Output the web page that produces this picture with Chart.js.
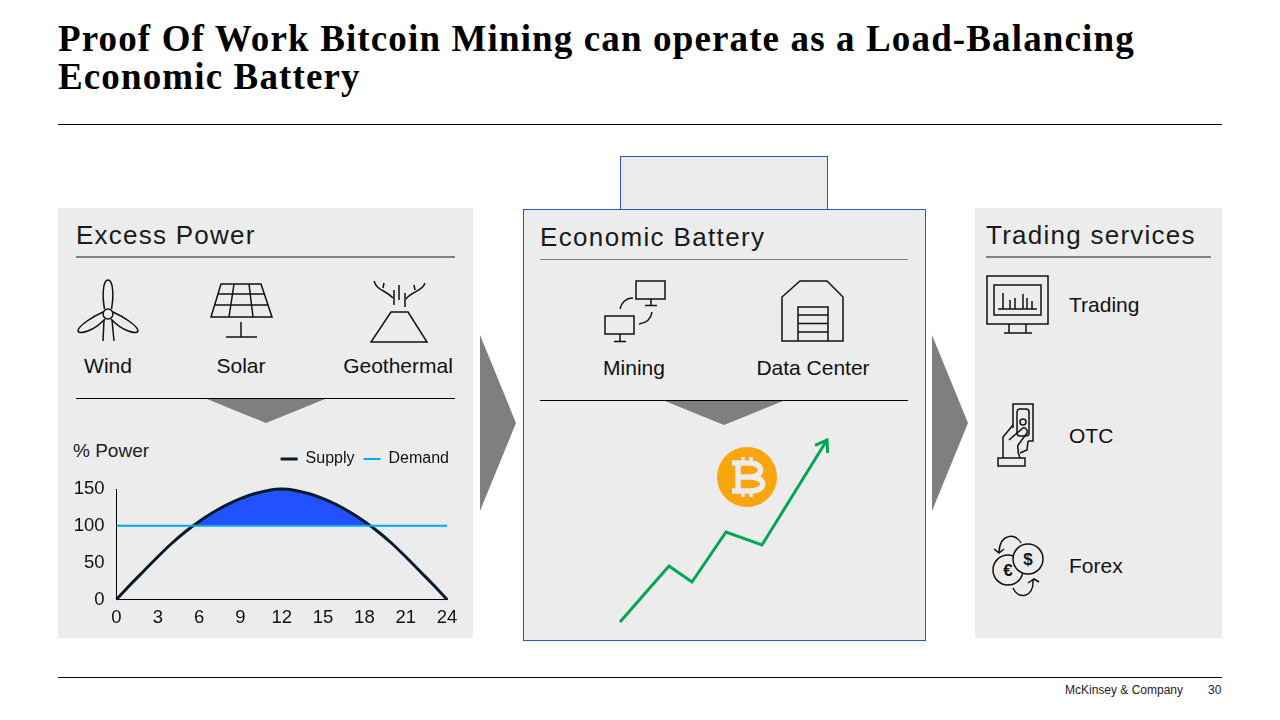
<!DOCTYPE html>
<html>
<head>
<meta charset="utf-8">
<title>Economic Battery</title>
<script src="https://cdn.jsdelivr.net/npm/chart.js@4"></script>
<style>
  body { margin: 0; background: #fff; width: 1280px; height: 720px; overflow: hidden; position: relative;
         font-family: "Liberation Sans", Arial, sans-serif; color: #111; }
  div, canvas, svg { position: absolute; }
  .title { left: 58px; top: 20px; width: 1164px; font: bold 37px/38px "Liberation Serif", serif; letter-spacing: 1.13px; color: #000; }
  .panel { background: #ececec; }
  .head { font-size: 26px; line-height: 30px; letter-spacing: 1.25px; white-space: nowrap; color: #1a1a1a; }
  .lbl { font-size: 21px; line-height: 24px; white-space: nowrap; transform: translateX(-50%); color: #111; }
  .lbl2 { font-size: 21px; line-height: 24px; white-space: nowrap; color: #111; }
  .rule { height: 1px; background: #000; }
  .rule2 { height: 2px; background: #808080; }
  #icons { left: 0; top: 0; }
  #icons .ic { fill: none; stroke: #111; stroke-width: 1.5; }
</style>
</head>
<body>
<div class="title">Proof Of Work Bitcoin Mining can operate as a Load-Balancing<br>Economic Battery</div>
<div class="rule" style="left:58px;top:124px;width:1164px"></div>

<div class="panel" style="left:58px;top:208px;width:415px;height:430px"></div>
<div class="panel" style="left:620px;top:156px;width:206px;height:54px;border:1px solid #2f54c0"></div>
<div class="panel" style="left:523px;top:209px;width:401px;height:430px;border:1px solid #2f54c0"></div>
<div class="panel" style="left:975px;top:208px;width:247px;height:430px"></div>

<div class="head" style="left:76px;top:220px">Excess Power</div>
<div class="rule2" style="left:76px;top:256px;width:379px"></div>
<div class="head" style="left:540px;top:222px;letter-spacing:1.35px">Economic Battery</div>
<div class="rule" style="left:540px;top:259px;width:368px;background:#808080"></div>
<div class="head" style="left:986px;top:220px">Trading services</div>
<div class="rule2" style="left:986px;top:256px;width:225px"></div>

<div class="lbl" style="left:108px;top:354px">Wind</div>
<div class="lbl" style="left:241px;top:354px">Solar</div>
<div class="lbl" style="left:398px;top:354px">Geothermal</div>
<div class="rule" style="left:76px;top:398px;width:379px"></div>
<div class="lbl" style="left:634px;top:356px">Mining</div>
<div class="lbl" style="left:813px;top:356px">Data Center</div>
<div class="rule" style="left:540px;top:400px;width:368px"></div>
<div class="lbl2" style="left:1069px;top:293px">Trading</div>
<div class="lbl2" style="left:1069px;top:424px">OTC</div>
<div class="lbl2" style="left:1069px;top:554px">Forex</div>

<svg id="icons" width="1280" height="720">
  <!-- arrows -->
  <g fill="#7f7f7f">
    <polygon points="480,335 516,423 480,511"/>
    <polygon points="932,335 968,423 932,511"/>
    <polygon points="207,399 325,399 266,423"/>
    <polygon points="665,401 783,401 724,425"/>
  </g>
  <!-- wind -->
  <g class="ic">
    <circle cx="108" cy="314" r="5"/>
    <path d="M104.5,309 C102,295 103,280 108,280 C113,280 114,295 111.500,309"/>
    <path d="M103,312 C92,317 78,326 78,331 C79,335 94,331 105,319"/>
    <path d="M113,312 C124,317 138,326 138,331 C137,335 122,331 111,319"/>
    <path d="M104,320 L103,341 M112,320 L114,341"/>
  </g>
  <!-- solar -->
  <g class="ic">
    <path d="M221,284 L261,284 L272,317 L211,317 Z"/>
    <path d="M217.7,294 L264.3,294 M214,305 L268,305 M234,284 L229,317 M249,284 L253,317"/>
    <path d="M241,322 L241,337 M226,337 L257,337"/>
  </g>
  <!-- geothermal -->
  <g class="ic">
    <path d="M391,312 L408,312 L427,342 L371,342 Z"/>
    <path d="M394,290 L394,305 M399,285 L399,300 M405,293 L405,307"/>
    <path d="M374,281 C377,291 386,290 393,298 M383,288 L384,283"/>
    <path d="M425,283 C422,292 412,291 406,299 M415,290 L414,285"/>
  </g>
  <!-- mining -->
  <g class="ic">
    <rect x="636" y="281" width="29" height="18"/>
    <path d="M651,299 L651,305.5 M645,305.5 L657,305.5"/>
    <rect x="605" y="316" width="29" height="18"/>
    <path d="M620,334 L620,341.5 M614,341.5 L626,341.5"/>
    <path d="M620,309 C621,303 626,298 633,298"/>
    <path d="M639,324 C646,323 651,319 652,312"/>
  </g>
  <!-- data center -->
  <g class="ic">
    <path d="M782,341 L782,297 L800,281 L827,281 L843,297 L843,341 Z"/>
    <path d="M798,341 L798,307 L828,307 L828,341 M798,315 L828,315 M798,323.5 L828,323.5 M798,332 L828,332"/>
  </g>
  <!-- trading -->
  <g class="ic">
    <rect x="987" y="276" width="61" height="48"/>
    <rect x="994" y="285" width="47" height="30"/>
    <path d="M998,309 L1037,309 M1003,293 L1003,309 M1010,300 L1010,309 M1015,298 L1015,309 M1023,294 L1023,309 M1027,298 L1027,309 M1032,301 L1032,309"/>
    <path d="M1009,324 L1009,333 M1026,324 L1026,333 M1004,333 L1032,333"/>
  </g>
  <!-- otc -->
  <g class="ic">
    <path d="M1013,428 L1013,404 L1033,404 L1033,441 L1028,441"/>
    <rect x="1017" y="409" width="12" height="27" rx="3"/>
    <circle cx="1023" cy="422" r="3"/>
    <rect x="998" y="458" width="27" height="8"/>
    <path d="M1003,458 L1003,437 L1013,425 M1009,440 L1023,428 C1026,427 1028,431 1027,433 L1018,445 C1017,448 1019,450 1018,452 L1020,458 M1028,441 L1027,450 L1020,453"/>
  </g>
  <!-- forex -->
  <g class="ic">
    <circle cx="1008" cy="570" r="15"/>
    <circle cx="1028" cy="559" r="15" fill="#ececec"/>
    <path d="M1021,543 C1016,533 1000,533 999,552 M994,549 L999,553 L1004,549"/>
    <path d="M1013,588 C1018,600 1034,598 1033,580 M1028,583 L1034,579 L1039,582"/>
    <text x="1008" y="576" text-anchor="middle" font-size="17" font-weight="bold" fill="#111" stroke="none">€</text>
    <text x="1028" y="565" text-anchor="middle" font-size="17" font-weight="bold" fill="#111" stroke="none">$</text>
  </g>
  <!-- bitcoin -->
  <circle cx="747" cy="477" r="30" fill="#f9a50e"/>
  <g fill="none" stroke="#ececec" stroke-width="5.5">
    <path d="M732,463 L750,463 C764,463 764,477 750,477 L738,477 M750,477 C767,477 767,491 750,491 L732,491 M738,461 L738,493"/>
    <path d="M743,457 L743,463 M751,457 L751,463 M743,491 L743,497 M751,491 L751,497" stroke-width="3.5"/>
  </g>
</svg>

<div style="left:73px;top:440px;font-size:19px;line-height:22px;color:#222">% Power</div>
<canvas id="powerChart" width="415" height="198" style="left:58px;top:440px"></canvas>
<canvas id="growthChart" width="237" height="212" style="left:605px;top:425px"></canvas>

<div class="rule" style="left:58px;top:677px;width:1164px"></div>
<div style="left:1065px;top:683px;font-size:12px;line-height:14px;color:#222">McKinsey &amp; Company</div>
<div style="left:1208px;top:683px;font-size:12px;line-height:14px;color:#222">30</div>

<script>
const hours = [0,1,2,3,4,5,6,7,8,9,10,11,12,13,14,15,16,17,18,19,20,21,22,23,24];
const supply = [0,20,39,58,76,92,106,118,128.5,137,143.5,148,150,148,143.5,137,128.5,118,106,92,76,58,39,20,0];
const demand = [100,100,100,100,100,100,100,100,100,100,100,100,100,100,100,100,100,100,100,100,100,100,100,100,100];
const xTicks = [0,3,6,9,12,15,18,21,24];
const yTicks = [0,50,100,150];

const growthX = [0,49,72,106,142,207];
const growthY = [0,56,40,90,77,182];

const font = 'Liberation Sans';

// leave room under the legend so the plot starts where it should,
// and push the legend past the plot's right edge
const legendGap = {
    id: 'legendGap',
    beforeInit(chart) {
        const fit = chart.legend.fit;
        chart.legend.fit = function () {
            fit.call(this);
            this.height += 12;
        };
    },
    afterLayout(chart) {
        chart.legend.left += 11;
        chart.legend.right += 11;
    }
};

new Chart(document.getElementById('powerChart'), {
    type: 'line',
    plugins: [legendGap],
    data: {
        datasets: [{
            label: 'Supply',
            data: hours.map((h, i) => ({ x: h, y: supply[i] })),
            borderColor: '#051c2c',
            backgroundColor: '#051c2c',
            borderWidth: 3,
            pointRadius: 0,
            cubicInterpolationMode: 'monotone',
            clip: false,
            order: 1,
            fill: { target: { value: 100 }, above: '#2251ff', below: 'rgba(0,0,0,0)' }
        }, {
            label: 'Demand',
            data: hours.map((h, i) => ({ x: h, y: demand[i] })),
            borderColor: '#00a9f4',
            backgroundColor: '#00a9f4',
            borderWidth: 2,
            pointRadius: 0,
            clip: false,
            order: 0
        }]
    },
    options: {
        responsive: false,
        animation: false,
        layout: { padding: { top: 2, right: 26, bottom: 0, left: 0 } },
        plugins: {
            tooltip: { enabled: false },
            legend: {
                position: 'top',
                align: 'end',
                labels: {
                    usePointStyle: true,
                    pointStyle: 'line',
                    pointStyleWidth: 17,
                    boxHeight: 3,
                    color: '#111',
                    padding: 9,
                    font: { family: font, size: 16 },
                    sort: (a, b) => a.datasetIndex - b.datasetIndex
                }
            }
        },
        scales: {
            x: {
                type: 'linear',
                min: 0,
                max: 24,
                afterBuildTicks: scale => { scale.ticks = xTicks.map(v => ({ value: v })); },
                afterFit: scale => { scale.height = 38.5; },
                grid: { display: false, drawTicks: false },
                border: { color: '#000', width: 1 },
                ticks: { color: '#111', padding: 7, maxRotation: 0, autoSkip: false, font: { family: font, size: 18.5 } }
            },
            y: {
                min: 0,
                max: 150,
                afterBuildTicks: scale => { scale.ticks = yTicks.map(v => ({ value: v })); },
                afterFit: scale => { scale.width = 58.5; },
                grid: { display: false, drawTicks: false },
                border: { color: '#000', width: 1 },
                ticks: { color: '#111', padding: 12, autoSkip: false, font: { family: font, size: 18.5 } }
            }
        }
    }
});

// open arrow head on the last point of the growth line
const arrowHead = {
    id: 'arrowHead',
    afterDatasetsDraw(chart) {
        const pts = chart.getDatasetMeta(0).data;
        const a = pts[pts.length - 2], b = pts[pts.length - 1];
        const ang = Math.atan2(b.y - a.y, b.x - a.x);
        const ctx = chart.ctx;
        ctx.save();
        ctx.strokeStyle = '#00a651';
        ctx.lineWidth = 3;
        ctx.beginPath();
        ctx.moveTo(b.x - 13 * Math.cos(ang - 0.6), b.y - 13 * Math.sin(ang - 0.6));
        ctx.lineTo(b.x, b.y);
        ctx.lineTo(b.x - 13 * Math.cos(ang + 0.6), b.y - 13 * Math.sin(ang + 0.6));
        ctx.stroke();
        ctx.restore();
    }
};

new Chart(document.getElementById('growthChart'), {
    type: 'line',
    plugins: [arrowHead],
    data: {
        datasets: [{
            data: growthX.map((x, i) => ({ x: x, y: growthY[i] })),
            borderColor: '#00a651',
            borderWidth: 3,
            pointRadius: 0,
            tension: 0,
            clip: false
        }]
    },
    options: {
        responsive: false,
        animation: false,
        layout: { padding: { top: 15, right: 15, bottom: 15, left: 15 } },
        plugins: { legend: { display: false }, tooltip: { enabled: false } },
        scales: {
            x: { type: 'linear', min: 0, max: 207, display: false },
            y: { min: 0, max: 182, display: false }
        }
    }
});
</script>
</body>
</html>
